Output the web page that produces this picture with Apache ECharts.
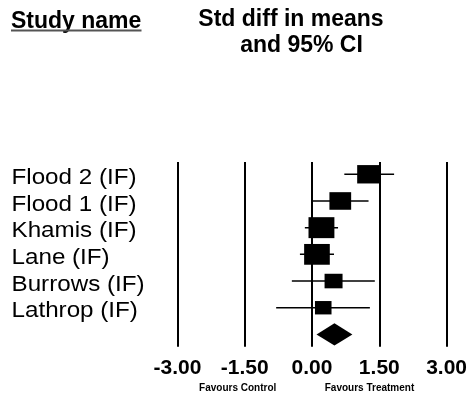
<!DOCTYPE html>
<html>
<head>
<meta charset="utf-8">
<script src="https://cdn.jsdelivr.net/npm/echarts@6/dist/echarts.min.js"></script>
<style>html,body{margin:0;padding:0;background:#fff}#c{width:470px;height:399px}</style>
</head>
<body>
<div id="c"></div>
<script>
// ---- data ----
const studies = ['Flood 2 (IF)', 'Flood 1 (IF)', 'Khamis (IF)', 'Lane (IF)', 'Burrows (IF)', 'Lathrop (IF)'];
const effect = [1.26, 0.63, 0.21, 0.11, 0.48, 0.25];
const lower  = [0.72, 0.00, -0.16, -0.27, -0.45, -0.80];
const upper  = [1.83, 1.26, 0.58, 0.49, 1.40, 1.29];
const weight = [17.7, 16.2, 23.0, 22.6, 11.1, 9.4];
const summary = { effect: 0.50, lower: 0.10, upper: 0.90 };
const xTicks = [-3.00, -1.50, 0.00, 1.50, 3.00];

const FONT = 'Liberation Sans, Arial, sans-serif';
const chart = echarts.init(document.getElementById('c'), null, {renderer: 'canvas'});

const rows = studies.map((s, i) => [i, effect[i], lower[i], upper[i], weight[i], s]);
const sumRow = [[studies.length, summary.effect, summary.lower, summary.upper]];

function renderStudy(params, api) {
  const row = api.value(0);
  const pM = api.coord([api.value(1), row]);
  const pL = api.coord([api.value(2), row]);
  const pU = api.coord([api.value(3), row]);
  const w = Math.sqrt(api.value(4));
  const bw = 5.4 * w, bh = 4.37 * w;
  return {
    type: 'group',
    children: [
      { type: 'line', shape: { x1: pL[0], y1: pM[1], x2: pU[0], y2: pM[1] },
        style: { stroke: '#000', lineWidth: 1.5 } },
      { type: 'rect', shape: { x: pM[0] - bw / 2, y: pM[1] - bh / 2, width: bw, height: bh },
        style: { fill: '#000' } },
      { type: 'text', x: 11.5, y: pM[1] + 3.5, scaleX: 1.1,
        style: { text: studies[row], font: '22px ' + FONT, fill: '#000',
                 textAlign: 'left', textVerticalAlign: 'middle' } }
    ]
  };
}

function renderSummary(params, api) {
  const row = api.value(0);
  const pM = api.coord([api.value(1), row]);
  const pL = api.coord([api.value(2), row]);
  const pU = api.coord([api.value(3), row]);
  const h = 11.2;
  return {
    type: 'polygon',
    shape: { points: [[pL[0], pM[1]], [pM[0], pM[1] - h], [pU[0], pM[1]], [pM[0], pM[1] + h]] },
    style: { fill: '#000' }
  };
}

const option = {
  animation: false,
  backgroundColor: '#fff',
  grid: { left: 177.5, right: 22.1, top: 162, bottom: 52.3 },
  xAxis: {
    type: 'value', min: -3, max: 3, interval: 1.5,
    axisLine: { show: false }, axisTick: { show: false },
    splitLine: { show: true, lineStyle: { color: '#000', width: 2 } },
    axisLabel: { formatter: v => v.toFixed(2), fontFamily: FONT, fontWeight: 'bold',
                 fontSize: 21, color: '#000', margin: 11 }
  },
  yAxis: {
    type: 'value', min: -0.46, max: 6.46, inverse: true, show: false
  },
  series: [
    { type: 'custom', renderItem: renderStudy, data: rows, encode: { x: [1, 2, 3], y: 0 }, clip: false },
    { type: 'custom', renderItem: renderSummary, data: sumRow, encode: { x: [1, 2, 3], y: 0 }, clip: false }
  ],
  graphic: [
    { type: 'text', left: 11, top: 10,
      style: { text: 'Study name', font: 'bold 23px ' + FONT, fill: '#000' } },
    { type: 'line', shape: { x1: 11, y1: 30.5, x2: 141.5, y2: 30.5 },
      style: { stroke: '#555', lineWidth: 2 } },
    { type: 'text', x: 291, y: 20,
      style: { text: 'Std diff in means', font: 'bold 23px ' + FONT, fill: '#000',
               textAlign: 'center', textVerticalAlign: 'middle' } },
    { type: 'text', x: 301.5, y: 46,
      style: { text: 'and 95% CI', font: 'bold 23px ' + FONT, fill: '#000',
               textAlign: 'center', textVerticalAlign: 'middle' } },
    { type: 'text', x: 237.7, y: 388.5,
      style: { text: 'Favours Control', font: 'bold 10px ' + FONT, fill: '#000',
               textAlign: 'center', textVerticalAlign: 'middle' } },
    { type: 'text', x: 369.5, y: 388.5,
      style: { text: 'Favours Treatment', font: 'bold 10px ' + FONT, fill: '#000',
               textAlign: 'center', textVerticalAlign: 'middle' } }
  ]
};
chart.setOption(option);
</script>
</body>
</html>
